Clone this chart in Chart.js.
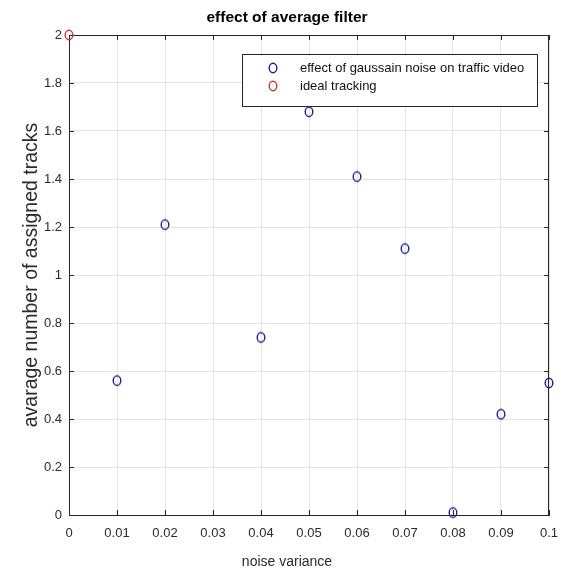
<!DOCTYPE html>
<html>
<head>
<meta charset="utf-8">
<script src="https://cdn.jsdelivr.net/npm/chart.js@4/dist/chart.umd.min.js"></script>
<style>
  html, body { margin: 0; padding: 0; background: #fff; }
  #wrap { width: 561px; height: 583px; }
</style>
</head>
<body>
<div id="wrap"><canvas id="myChart" width="561" height="583"></canvas></div>
<script>
// measured points
const noiseVariance = [0.01, 0.02, 0.04, 0.05, 0.06, 0.07, 0.08, 0.09, 0.1];
const assignedTracks = [0.56, 1.21, 0.74, 1.68, 1.41, 1.11, 0.01, 0.42, 0.55];
const idealVariance = [0];
const idealTracks = [2];

const xTickValues = [0, 0.01, 0.02, 0.03, 0.04, 0.05, 0.06, 0.07, 0.08, 0.09, 0.1];
const yTickValues = [0, 0.2, 0.4, 0.6, 0.8, 1, 1.2, 1.4, 1.6, 1.8, 2];

const seriesLabels = ['effect of gaussain noise on traffic video', 'ideal tracking'];
const chartTitle = 'effect of average filter';
const xTitle = 'noise variance';
const yTitle = 'avarage number of assigned tracks';

const FONT = "'Liberation Sans', Arial, sans-serif";
const axisColor = '#262626';
const textColor = '#2b2b2b';
const blue = '#1a2090';
const red = '#c23a36';

// open circle marker, a bit taller than wide
function ringMarker(color) {
    const c = document.createElement('canvas');
    c.width = 12; c.height = 14;
    const g = c.getContext('2d');
    g.strokeStyle = color;
    g.lineWidth = 1.4;
    g.beginPath();
    g.ellipse(6, 7, 3.8, 4.7, 0, 0, Math.PI * 2);
    g.stroke();
    return c;
}
const blueRing = ringMarker(blue);
const redRing = ringMarker(red);

function toPoints(xs, ys) {
    return xs.map((x, i) => ({ x: x, y: ys[i] }));
}

// top/right box lines and inward tick marks
const boxAndTicks = {
    id: 'boxAndTicks',
    beforeDatasetsDraw(chart) {
        const { ctx, chartArea: a, scales } = chart;
        ctx.save();
        ctx.strokeStyle = axisColor;
        ctx.lineWidth = 1;
        ctx.beginPath();
        ctx.moveTo(a.left, a.top + 0.5);
        ctx.lineTo(a.right, a.top + 0.5);
        ctx.moveTo(a.right - 0.5, a.top);
        ctx.lineTo(a.right - 0.5, a.bottom);
        const len = 5;
        xTickValues.forEach(v => {
            const px = Math.round(scales.x.getPixelForValue(v)) + 0.5;
            ctx.moveTo(px, a.bottom);
            ctx.lineTo(px, a.bottom - len);
            ctx.moveTo(px, a.top);
            ctx.lineTo(px, a.top + len);
        });
        yTickValues.forEach(v => {
            const py = Math.round(scales.y.getPixelForValue(v)) + 0.5;
            ctx.moveTo(a.left, py);
            ctx.lineTo(a.left + len, py);
            ctx.moveTo(a.right, py);
            ctx.lineTo(a.right - len, py);
        });
        ctx.stroke();
        ctx.restore();
    }
};

// title and x label, both centred on x = 287
const captions = {
    id: 'captions',
    afterDraw(chart) {
        const ctx = chart.ctx;
        ctx.save();
        ctx.textAlign = 'center';
        ctx.textBaseline = 'middle';
        ctx.fillStyle = '#000';
        ctx.font = 'bold 15.5px ' + FONT;
        ctx.fillText(chartTitle, 287, 18);
        ctx.fillStyle = textColor;
        ctx.font = '14px ' + FONT;
        ctx.fillText(xTitle, 287, 562);
        ctx.restore();
    }
};

// legend box inside the axes, upper right
const insideLegend = {
    id: 'insideLegend',
    afterDraw(chart) {
        const ctx = chart.ctx;
        const box = { left: 242, top: 54, right: 538, bottom: 107 };
        ctx.save();
        ctx.fillStyle = '#fff';
        ctx.fillRect(box.left, box.top, box.right - box.left, box.bottom - box.top);
        ctx.strokeStyle = axisColor;
        ctx.lineWidth = 1;
        ctx.strokeRect(box.left + 0.5, box.top + 0.5, box.right - box.left - 1, box.bottom - box.top - 1);
        ctx.font = '13px ' + FONT;
        ctx.fillStyle = '#111';
        ctx.textBaseline = 'middle';
        const rows = [68, 86];
        const rings = [blueRing, redRing];
        chart.data.datasets.forEach((ds, i) => {
            ctx.drawImage(rings[i], 273 - 6, rows[i] - 7);
            ctx.fillText(ds.label, 300, rows[i]);
        });
        ctx.restore();
    }
};

const ctx = document.getElementById('myChart').getContext('2d');
window.myChart = new Chart(ctx, {
    type: 'scatter',
    data: {
        datasets: [{
            label: seriesLabels[0],
            data: toPoints(noiseVariance, assignedTracks),
            pointStyle: blueRing,
            clip: false
        }, {
            label: seriesLabels[1],
            data: toPoints(idealVariance, idealTracks),
            pointStyle: redRing,
            clip: false
        }]
    },
    options: {
        responsive: false,
        animation: false,
        events: [],
        layout: { padding: { top: 35, right: 12 } },
        plugins: {
            legend: { display: false },
            tooltip: { enabled: false },
            title: { display: false }
        },
        scales: {
            x: {
                type: 'linear',
                min: 0,
                max: 0.1,
                afterBuildTicks: scale => { scale.ticks = xTickValues.map(v => ({ value: v })); },
                afterFit: scale => {
                    scale.height = 68;
                    scale.paddingLeft = 0;
                    scale.paddingRight = 0;
                },
                grid: { color: '#e4e4e4', drawTicks: false },
                border: { display: true, color: axisColor, width: 1 },
                ticks: {
                    autoSkip: false,
                    maxRotation: 0,
                    padding: 11,
                    color: textColor,
                    font: { family: FONT, size: 13 },
                    callback: v => String(v)
                }
            },
            y: {
                type: 'linear',
                min: 0,
                max: 2,
                afterBuildTicks: scale => { scale.ticks = yTickValues.map(v => ({ value: v })); },
                afterFit: scale => { scale.width = 69; },
                grid: { color: '#e4e4e4', drawTicks: false },
                border: { display: true, color: axisColor, width: 1 },
                ticks: {
                    autoSkip: false,
                    padding: 7,
                    color: textColor,
                    font: { family: FONT, size: 13 },
                    callback: v => String(v)
                },
                title: {
                    display: true,
                    text: yTitle,
                    color: textColor,
                    font: { family: FONT, size: 19.5 },
                    padding: { top: 20, bottom: 0 }
                }
            }
        }
    },
    plugins: [boxAndTicks, captions, insideLegend]
});
</script>
</body>
</html>
